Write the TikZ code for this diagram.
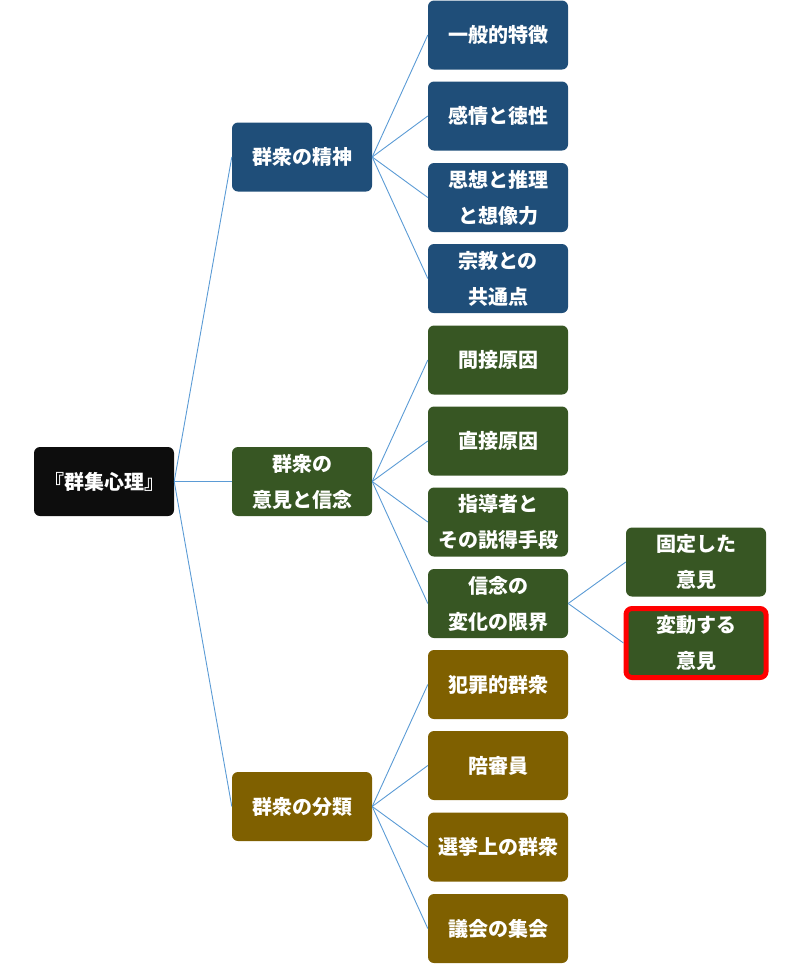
\documentclass[tikz,border=0pt]{standalone}
\usepackage{fontspec}
\setmainfont{Noto Sans CJK JP}
\definecolor{cblue}{HTML}{1F4E79}
\definecolor{cgreen}{HTML}{375623}
\definecolor{cbrown}{HTML}{7F6000}
\definecolor{croot}{HTML}{0D0D0D}
\definecolor{cline}{HTML}{5B9BD5}
\tikzset{
  box/.style={rounded corners=6pt, minimum width=140pt, minimum height=69pt, inner sep=0pt,
    text=white, font=\bfseries\fontsize{20}{36}\selectfont, align=center},
  bluebox/.style={box, fill=cblue},
  greenbox/.style={box, fill=cgreen},
  brownbox/.style={box, fill=cbrown},
  rootbox/.style={box, fill=croot},
  conn/.style={draw=cline, line width=0.9pt},
}
\begin{document}
\begin{tikzpicture}[x=1pt,y=-1pt]
\useasboundingbox (0,0) rectangle (800,967);
\node[rootbox] (root) at (104,481.5) {『群集心理』};
\node[bluebox] (a) at (302,157) {群衆の精神};
\node[greenbox] (b) at (302,481.5) {群衆の\\意見と信念};
\node[brownbox] (c) at (302,806.5) {群衆の分類};
\node[bluebox] (a1) at (498,35) {一般的特徴};
\node[bluebox] (a2) at (498,116) {感情と徳性};
\node[bluebox] (a3) at (498,197.5) {思想と推理\\と想像力};
\node[bluebox] (a4) at (498,278.5) {宗教との\\共通点};
\node[greenbox] (b1) at (498,360) {間接原因};
\node[greenbox] (b2) at (498,441) {直接原因};
\node[greenbox] (b3) at (498,522) {指導者と\\その説得手段};
\node[greenbox] (b4) at (498,603.5) {信念の\\変化の限界};
\node[brownbox] (c1) at (498,684.5) {犯罪的群衆};
\node[brownbox] (c2) at (498,765.5) {陪審員};
\node[brownbox] (c3) at (498,847) {選挙上の群衆};
\node[brownbox] (c4) at (498,928.5) {議会の集会};
\node[greenbox] (d1) at (696,562) {固定した\\意見};
\node[greenbox, draw=red, line width=5pt] (d2) at (696,643) {変動する\\意見};
\foreach \t in {a,b,c} \draw[conn] (root.east) -- (\t.west);
\foreach \t in {a1,a2,a3,a4} \draw[conn] (a.east) -- (\t.west);
\foreach \t in {b1,b2,b3,b4} \draw[conn] (b.east) -- (\t.west);
\foreach \t in {c1,c2,c3,c4} \draw[conn] (c.east) -- (\t.west);
\foreach \t in {d1,d2} \draw[conn] (b4.east) -- (\t.west);
\end{tikzpicture}
\end{document}
